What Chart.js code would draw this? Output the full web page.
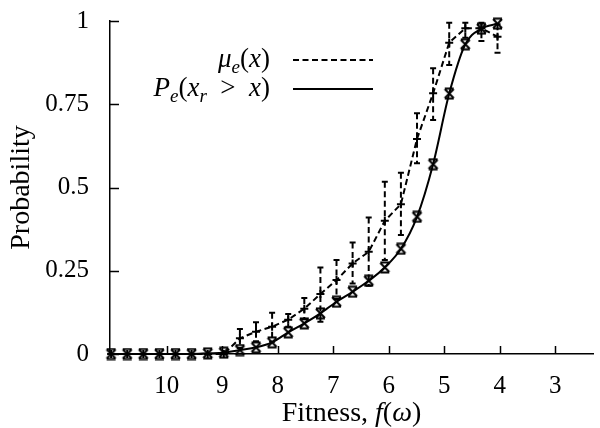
<!DOCTYPE html>
<html lang="en">
<head>
<meta charset="UTF-8">
<script src="https://cdn.jsdelivr.net/npm/chart.js"></script>
<title>Fitness vs probability</title>
<style>
  html, body { margin: 0; padding: 0; background: #fff; }
  #chart { display: block; }
</style>
</head>
<body>
<canvas id="chart" width="600" height="428"></canvas>
<script>
// values
const fitness = [11.0, 10.71, 10.42, 10.13, 9.84, 9.55, 9.26, 8.97, 8.68, 8.39, 8.1, 7.81,
                 7.52, 7.23, 6.94, 6.65, 6.36, 6.07, 5.78, 5.49, 5.2, 4.91, 4.62, 4.33, 4.04];
const peValues = [0, 0, 0, 0, 0, 0, 0.002, 0.004, 0.012, 0.02, 0.035, 0.065,
                  0.092, 0.122, 0.157, 0.187, 0.22, 0.26, 0.316, 0.412, 0.57, 0.782, 0.93, 0.977, 0.992];
const muValues = [0, 0, 0, 0, 0, 0, 0, 0, 0.047, 0.067, 0.082, 0.103,
                  0.136, 0.18, 0.222, 0.272, 0.307, 0.40, 0.45, 0.646, 0.783, 0.935, 0.978, 0.978, 0.953];
const muLow  = [0, 0, 0, 0, 0, 0, 0, 0, 0.018, 0.038, 0.037, 0.082,
                0.104, 0.097, 0.165, 0.212, 0.205, 0.282, 0.357, 0.573, 0.703, 0.868, 0.95, 0.94, 0.905];
const muHigh = [0, 0, 0, 0, 0, 0, 0, 0, 0.075, 0.095, 0.124, 0.12,
                0.168, 0.26, 0.282, 0.335, 0.41, 0.517, 0.544, 0.723, 0.858, 0.995, 0.995, 0.995, 0.99];
const xTicks = [3, 4, 5, 6, 7, 8, 9, 10];
const yTicks = [0, 0.25, 0.5, 0.75, 1];
const yTickLabels = ['0', '0.25', '0.5', '0.75', '1'];

const SERIF = '"Liberation Serif", "Times New Roman", serif';
const DASH = [6, 3.5];

// x marker with little caps top and bottom
function hourglass() {
  const c = document.createElement('canvas');
  c.width = 13; c.height = 13;
  const g = c.getContext('2d');
  g.strokeStyle = '#000';
  g.lineWidth = 2;
  g.beginPath();
  g.moveTo(2, 2); g.lineTo(11, 11);
  g.moveTo(11, 2); g.lineTo(2, 11);
  g.moveTo(2, 1.5); g.lineTo(11, 1.5);
  g.moveTo(2, 11.5); g.lineTo(11, 11.5);
  g.stroke();
  return c;
}

// text with italic and subscript pieces
function richText(ctx, parts, x, y, size, align) {
  const fontFor = p => (p[1].includes('i') ? 'italic ' : '') +
    Math.round(p[1].includes('s') ? size * 0.7 : size) + 'px ' + SERIF;
  let total = 0;
  parts.forEach(p => { ctx.font = fontFor(p); total += ctx.measureText(p[0]).width; });
  let cx = align === 'right' ? x - total : align === 'center' ? x - total / 2 : x;
  ctx.textAlign = 'left';
  ctx.textBaseline = 'alphabetic';
  parts.forEach(p => {
    ctx.font = fontFor(p);
    ctx.fillText(p[0], cx, y + (p[1].includes('s') ? size * 0.22 : 0));
    cx += ctx.measureText(p[0]).width;
  });
}

const inwardTicks = {
  id: 'inwardTicks',
  beforeDatasetsDraw(chart) {
    const {ctx, scales: {x, y}, chartArea} = chart;
    ctx.save();
    ctx.strokeStyle = '#000';
    ctx.lineWidth = 1.5;
    ctx.beginPath();
    xTicks.forEach(v => {
      const px = Math.round(x.getPixelForValue(v)) + 0.5;
      ctx.moveTo(px, chartArea.bottom);
      ctx.lineTo(px, chartArea.bottom - 8);
    });
    yTicks.forEach(v => {
      const py = Math.round(y.getPixelForValue(v)) + 0.5;
      ctx.moveTo(chartArea.left, py);
      ctx.lineTo(chartArea.left + 9, py);
    });
    ctx.stroke();
    ctx.restore();
  }
};

const errorBars = {
  id: 'errorBars',
  afterDatasetsDraw(chart) {
    const {ctx, scales: {x, y}} = chart;
    ctx.save();
    ctx.strokeStyle = '#000';
    ctx.lineWidth = 2;
    fitness.forEach((f, i) => {
      if (muHigh[i] === muLow[i]) return;
      const px = x.getPixelForValue(f);
      const yl = y.getPixelForValue(muLow[i]);
      const yh = y.getPixelForValue(muHigh[i]);
      ctx.setLineDash(DASH);
      ctx.beginPath();
      ctx.moveTo(px, yh); ctx.lineTo(px, yl);
      ctx.stroke();
      ctx.setLineDash([]);
      ctx.beginPath();
      ctx.moveTo(px - 3, yh); ctx.lineTo(px + 3, yh);
      ctx.moveTo(px - 3, yl); ctx.lineTo(px + 3, yl);
      ctx.stroke();
    });
    ctx.restore();
  }
};

const texts = {
  id: 'texts',
  afterDraw(chart) {
    const {ctx, chartArea} = chart;
    ctx.save();
    ctx.fillStyle = '#000';
    ctx.strokeStyle = '#000';
    // legend
    richText(ctx, [['μ', 'i'], ['e', 'si'], ['(', 'r'], ['x', 'i'], [')', 'r']], 270, 67, 27, 'right');
    richText(ctx, [['P', 'i'], ['e', 'si'], ['(', 'r'], ['x', 'i'], ['r', 'si'], ['\u2002>\u2002', 'r'], ['x', 'i'], [')', 'r']], 270, 96, 27, 'right');
    ctx.lineWidth = 2;
    ctx.setLineDash(DASH);
    ctx.beginPath(); ctx.moveTo(293, 60); ctx.lineTo(373, 60); ctx.stroke();
    ctx.setLineDash([]);
    ctx.beginPath(); ctx.moveTo(293, 89); ctx.lineTo(373, 89); ctx.stroke();
    // x axis title
    richText(ctx, [['Fitness, ', 'r'], ['f', 'i'], ['(', 'r'], ['ω', 'i'], [')', 'r']],
      (chartArea.left + chartArea.right) / 2, 421, 28, 'center');
    ctx.restore();
  }
};

new Chart(document.getElementById('chart'), {
  type: 'line',
  data: {
    datasets: [
      {
        label: 'mu_e(x)',
        data: fitness.map((f, i) => ({x: f, y: muValues[i]})),
        borderColor: '#000',
        borderWidth: 2,
        borderDash: DASH,
        pointStyle: 'cross',
        pointRadius: 4,
        pointBorderWidth: 2,
        pointBorderColor: '#000',
        fill: false,
        tension: 0,
        clip: false
      },
      {
        label: 'P_e(x_r > x)',
        data: fitness.map((f, i) => ({x: f, y: peValues[i]})),
        borderColor: '#000',
        borderWidth: 2,
        pointStyle: hourglass(),
        pointRadius: 5,
        fill: false,
        cubicInterpolationMode: 'monotone',
        clip: false
      }
    ]
  },
  options: {
    responsive: false,
    animation: false,
    devicePixelRatio: 1,
    layout: {padding: {top: 21, left: 0, right: 0, bottom: 0}},
    plugins: {legend: {display: false}, tooltip: {enabled: false}},
    scales: {
      x: {
        type: 'linear',
        reverse: true,
        min: 2.32,
        max: 11.02,
        afterBuildTicks: s => { s.ticks = xTicks.map(v => ({value: v})); },
        afterFit: s => { s.height = 74; s.paddingLeft = 0; s.paddingRight = 0; },
        grid: {display: false, drawTicks: false},
        border: {display: true, color: '#000', width: 1.5},
        ticks: {color: '#000', padding: 17, font: {family: SERIF, size: 25}, callback: v => String(v)}
      },
      y: {
        min: 0,
        max: 1,
        afterBuildTicks: s => { s.ticks = yTicks.map(v => ({value: v})); },
        afterFit: s => { s.width = 110; s.paddingTop = 0; s.paddingBottom = 0; },
        grid: {display: false, drawTicks: false},
        border: {display: true, color: '#000', width: 1.5},
        ticks: {color: '#000', padding: 21, font: {family: SERIF, size: 25},
                callback: v => yTickLabels[yTicks.indexOf(v)]},
        title: {display: true, text: 'Probability', color: '#000',
                font: {family: SERIF, size: 28}, padding: {top: 5, bottom: 0}}
      }
    }
  },
  plugins: [inwardTicks, errorBars, texts]
});
</script>
</body>
</html>
